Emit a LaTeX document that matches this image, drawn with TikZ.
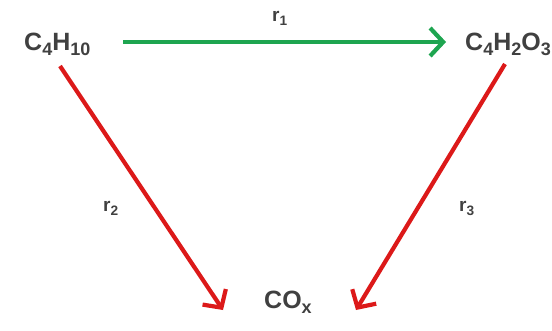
\documentclass[tikz,border=0pt]{standalone}
\usepackage{fontspec}
\setmainfont{Liberation Sans}
\usetikzlibrary{arrows.meta}
\definecolor{txt}{RGB}{64,64,64}
\definecolor{grn}{RGB}{30,165,80}
\definecolor{rd}{RGB}{220,25,25}
\newcommand\csub[1]{\raisebox{-0.22em}{\scalebox{0.72}{#1}}}
\tikzset{
  chem/.style={font=\bfseries\fontsize{25}{29}\selectfont, text=txt, inner sep=0pt},
  lab/.style={font=\bfseries\fontsize{19}{22}\selectfont, text=txt, inner sep=0pt},
  rxn/.style={line width=4.2pt, -{Straight Barb[length=13pt,width=28pt,line width=4.2pt]}},
}
\begin{document}
\begin{tikzpicture}[x=1pt,y=-1pt]
\useasboundingbox (0,0) rectangle (552,330);
\node[chem, anchor=base west] (a) at (24,50) {C\csub{4}H\csub{10}};
\node[chem, anchor=base west] (b) at (465,50) {C\csub{4}H\csub{2}O\csub{3}};
\node[chem, anchor=base west] (c) at (264,308) {CO\csub{x}};
\coordinate (a1) at (123,42);
\coordinate (b1) at (446,42);
\coordinate (a2) at (60,66);
\coordinate (c2) at (223,310);
\coordinate (b3) at (505,64);
\coordinate (c3) at (356,310);
\draw[rxn, grn] (a1) -- (b1);
\draw[rxn, rd] (a2) -- (c2);
\draw[rxn, rd] (b3) -- (c3);
\node[lab, anchor=base west] (r1) at (272,21) {r\csub{1}};
\node[lab, anchor=base west] (r2) at (103,211) {r\csub{2}};
\node[lab, anchor=base west] (r3) at (459,211) {r\csub{3}};
\end{tikzpicture}
\end{document}
